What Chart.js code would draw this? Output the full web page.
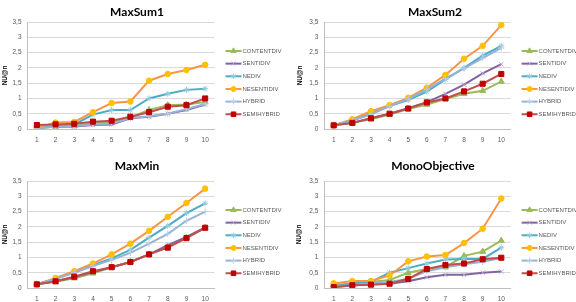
<!DOCTYPE html>
<html>
<head>
<meta charset="utf-8">
<script src="https://cdn.jsdelivr.net/npm/chart.js@4.4.1/dist/chart.umd.min.js"></script>
<style>
  html, body { margin: 0; padding: 0; background: #fff; }
  #wrap { position: relative; width: 576px; height: 302px; overflow: hidden; }
  .panel { position: absolute; width: 288px; height: 151px; }
</style>
</head>
<body>
<div id="wrap">
  <div class="panel" style="left:0;top:0"><canvas id="maxSum1"></canvas></div>
  <div class="panel" style="left:288px;top:0"><canvas id="maxSum2"></canvas></div>
  <div class="panel" style="left:0;top:151px"><canvas id="maxMin"></canvas></div>
  <div class="panel" style="left:288px;top:151px"><canvas id="mono"></canvas></div>
</div>
<script>
const labels = ['1', '2', '3', '4', '5', '6', '7', '8', '9', '10'];
const seriesNames = ['CONTENTDIV', 'SENTIDIV', 'NEDIV', 'NESENTIDIV', 'HYBRID', 'SEMIHYBRID'];
const yAxisTitle = 'NU@n';

// rows follow seriesNames order
const maxSum1 = [
  [0.02, 0.08, 0.10, 0.20, 0.22, 0.38, 0.62, 0.78, 0.80, 0.88],
  [0.05, 0.07, 0.08, 0.13, 0.15, 0.35, 0.40, 0.50, 0.62, 0.80],
  [0.05, 0.10, 0.15, 0.47, 0.62, 0.62, 1.00, 1.15, 1.28, 1.32],
  [0.03, 0.21, 0.23, 0.55, 0.85, 0.90, 1.58, 1.80, 1.93, 2.10],
  [0.03, 0.07, 0.10, 0.15, 0.18, 0.35, 0.42, 0.50, 0.65, 0.82],
  [0.13, 0.15, 0.17, 0.24, 0.27, 0.40, 0.55, 0.73, 0.78, 1.00]
];
const maxSum2 = [
  [0.12, 0.20, 0.32, 0.47, 0.65, 0.80, 0.98, 1.15, 1.25, 1.55],
  [0.12, 0.20, 0.35, 0.50, 0.68, 0.88, 1.15, 1.45, 1.82, 2.12],
  [0.12, 0.28, 0.50, 0.75, 0.95, 1.22, 1.62, 2.00, 2.40, 2.72],
  [0.12, 0.32, 0.58, 0.78, 1.02, 1.35, 1.77, 2.30, 2.72, 3.40],
  [0.12, 0.28, 0.48, 0.75, 0.98, 1.30, 1.65, 1.98, 2.32, 2.65],
  [0.12, 0.20, 0.35, 0.50, 0.67, 0.87, 1.00, 1.23, 1.48, 1.80]
];
const maxMin = [
  [0.12, 0.20, 0.32, 0.48, 0.68, 0.85, 1.10, 1.35, 1.65, 1.97],
  [0.12, 0.22, 0.35, 0.52, 0.68, 0.85, 1.10, 1.40, 1.67, 1.98],
  [0.12, 0.30, 0.52, 0.75, 0.97, 1.25, 1.65, 2.03, 2.45, 2.77],
  [0.12, 0.33, 0.55, 0.80, 1.10, 1.45, 1.87, 2.33, 2.78, 3.25],
  [0.12, 0.30, 0.50, 0.72, 0.92, 1.15, 1.45, 1.77, 2.20, 2.50],
  [0.12, 0.22, 0.37, 0.55, 0.68, 0.85, 1.10, 1.32, 1.63, 1.97]
];
const monoObjective = [
  [0.10, 0.15, 0.20, 0.26, 0.50, 0.62, 0.68, 1.05, 1.19, 1.55],
  [0.03, 0.08, 0.12, 0.14, 0.22, 0.35, 0.43, 0.43, 0.50, 0.54],
  [0.05, 0.15, 0.20, 0.50, 0.65, 0.80, 0.93, 0.95, 0.95, 1.32],
  [0.15, 0.23, 0.23, 0.41, 0.87, 1.03, 1.08, 1.47, 1.94, 2.93],
  [0.05, 0.10, 0.15, 0.20, 0.30, 0.55, 0.68, 0.78, 0.86, 0.98],
  [0.03, 0.09, 0.11, 0.14, 0.30, 0.62, 0.75, 0.80, 0.94, 0.99]
];

const styles = [
  { line: '#9BBB59', fill: '#9BBB59', stroke: '#9BBB59', point: 'triangle', r: 3.5 },
  { line: '#8064A2', fill: '#B3A2C7', stroke: '#B3A2C7', point: 'crossRot', r: 3 },
  { line: '#4BACC6', fill: '#93CDDD', stroke: '#93CDDD', point: 'star', r: 3 },
  { line: '#F79646', fill: '#FFC000', stroke: '#FFC000', point: 'circle', r: 2.8 },
  { line: '#95B3D7', fill: '#B9CDE5', stroke: '#B9CDE5', point: 'cross', r: 3.2 },
  { line: '#C0504D', fill: '#C00000', stroke: '#C00000', point: 'rect', r: 3.6 }
];

const sansFamily = "'Liberation Sans', Arial, sans-serif";
const tickFont = { family: sansFamily, size: 6.5 };
const legendFont = { family: sansFamily, size: 6 };

// draws the line+marker legend into the space reserved on the right
const lineLegend = {
  id: 'lineLegend',
  afterDraw(chart) {
    const ctx = chart.ctx;
    const area = chart.chartArea;
    const x0 = area.right + 11;
    ctx.save();
    chart.data.datasets.forEach((ds, i) => {
      const y = area.top + 29 + i * 12.65;
      ctx.strokeStyle = ds.borderColor;
      ctx.lineWidth = 2;
      ctx.beginPath();
      ctx.moveTo(x0, y);
      ctx.lineTo(x0 + 16, y);
      ctx.stroke();
      ctx.fillStyle = ds.pointBackgroundColor;
      ctx.strokeStyle = ds.pointBorderColor;
      ctx.lineWidth = 1;
      Chart.helpers.drawPoint(ctx, { pointStyle: ds.pointStyle, radius: ds.pointRadius * 0.9, rotation: 0, borderWidth: 1 }, x0 + 8, y);
      ctx.fillStyle = '#595959';
      ctx.font = legendFont.size + 'px ' + legendFont.family;
      ctx.textBaseline = 'middle';
      ctx.textAlign = 'left';
      ctx.fillText(ds.label, x0 + 17, y);
    });
    ctx.restore();
  }
};

function makeChart(id, title, rows, lay) {
  const datasets = rows.map((vals, i) => ({
    label: seriesNames[i],
    data: vals,
    borderColor: styles[i].line,
    borderWidth: 2,
    pointStyle: styles[i].point,
    pointRadius: styles[i].r,
    pointBackgroundColor: styles[i].fill,
    pointBorderColor: styles[i].stroke,
    pointBorderWidth: 1,
    tension: 0,
    order: rows.length - 1 - i
  }));

  return new Chart(document.getElementById(id), {
    type: 'line',
    data: { labels: labels, datasets: datasets },
    plugins: [lineLegend],
    options: {
      responsive: true,
      maintainAspectRatio: false,
      animation: false,
      layout: { padding: { left: lay.padL, right: lay.padR, top: 0, bottom: 0 } },
      plugins: {
        legend: { display: false },
        tooltip: { enabled: false },
        title: {
          display: true,
          text: title,
          color: '#000',
          font: { family: "Lato, 'Open Sans', sans-serif", size: 12, weight: 'bold', lineHeight: 1.2 },
          padding: { top: lay.titleTop, bottom: lay.titleBottom }
        }
      },
      scales: {
        x: {
          offset: true,
          grid: { display: false, drawTicks: false },
          border: { display: true, color: '#BFBFBF', width: 1 },
          ticks: { color: '#595959', font: tickFont, padding: 7, maxRotation: 0 },
          afterFit: s => { s.height = lay.xH; }
        },
        y: {
          min: 0,
          max: 3.5,
          grid: { color: '#D9D9D9', drawTicks: false },
          border: { display: true, color: '#BFBFBF', width: 1 },
          ticks: {
            stepSize: 0.5,
            color: '#595959',
            font: tickFont,
            padding: 6,
            callback: v => String(v).replace('.', ',')
          },
          title: {
            display: true,
            text: yAxisTitle,
            color: '#000',
            font: { family: sansFamily, size: 6.5, weight: 'bold', lineHeight: 1.2 },
            padding: { top: lay.yTitlePad, bottom: 0 }
          },
          afterFit: s => { s.width = lay.yW; }
        },
        spacer: {
          type: 'linear',
          axis: 'y',
          position: 'right',
          display: true,
          grid: { display: false, drawTicks: false },
          border: { display: false },
          ticks: { display: false },
          afterFit: s => { s.width = lay.spacer; }
        }
      }
    }
  });
}

makeChart('maxSum1', 'MaxSum1', maxSum1,
  { padL: 0, padR: 14, yW: 27.5, spacer: 59.5, titleTop: 4.8, titleBottom: 2.8, xH: 22, yTitlePad: 1 });
makeChart('maxSum2', 'MaxSum2', maxSum2,
  { padL: 6, padR: 0, yW: 30.4, spacer: 65.4, titleTop: 4.8, titleBottom: 2.8, xH: 22, yTitlePad: 2 });
makeChart('maxMin', 'MaxMin', maxMin,
  { padL: 0, padR: 14, yW: 27.5, spacer: 59.5, titleTop: 7.8, titleBottom: 7.8, xH: 14, yTitlePad: 1 });
makeChart('mono', 'MonoObjective', monoObjective,
  { padL: 2, padR: 0, yW: 34.4, spacer: 65.4, titleTop: 7.8, titleBottom: 7.8, xH: 14, yTitlePad: 5.7 });
</script>
</body>
</html>
